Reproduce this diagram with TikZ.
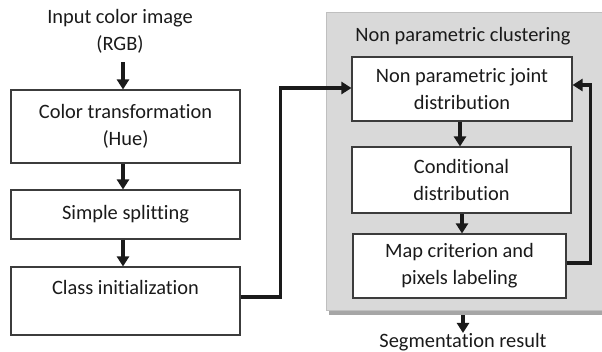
\documentclass[tikz,border=0pt]{standalone}
\usepackage{fontspec}
\setmainfont{Carlito}[Ligatures={NoCommon,NoRare,NoContextual}]
\usetikzlibrary{arrows.meta}
\definecolor{panelfill}{HTML}{D9D9D9}
\definecolor{panelline}{HTML}{BFBFBF}
\definecolor{panelshade}{HTML}{A6A6A6}
\definecolor{ink}{HTML}{1A1A1A}
\tikzset{
  stepbox/.style={draw=ink!85, line width=1.1pt, fill=white, align=center,
    inner sep=0pt, text=ink},
  plain/.style={align=center, inner sep=0pt, text=ink},
  arr/.style={draw=ink, line width=3.6pt,
    -{Triangle[width=12pt,length=10pt]}},
  link/.style={draw=ink, line width=3.6pt, line join=miter,
    -{Triangle[width=12pt,length=10pt]}},
}
\begin{document}
\begin{tikzpicture}[x=1pt, y=-1pt, font=\fontsize{20.4}{27}\selectfont]
\useasboundingbox (0,0) rectangle (602,352);

% clustering panel with its shadow
\fill[panelshade] (329,311) rectangle (620,315);
\node[draw=panelline, fill=panelfill, line width=1pt, minimum width=290pt,
  minimum height=298pt, inner sep=0pt] (panel) at (471,162) {};
\node[plain] (ptitle) at (463,36) {Non parametric clustering};

% left column
\node[plain] (in) at (120,31) {Input color image\\(RGB)};
\node[stepbox, minimum width=229pt, minimum height=73pt] (b1) at (125.5,126.5)
  {Color transformation\\(Hue)};
\node[stepbox, minimum width=229pt, minimum height=49pt] (b2) at (125.5,214.5)
  {Simple splitting};
\node[stepbox, minimum width=229pt, minimum height=68pt] (b3) at (125.5,301)
  {Class initialization\\\mbox{}};

% right column
\node[stepbox, minimum width=220pt, minimum height=64pt] (b4) at (462,89)
  {Non parametric joint\\distribution};
\node[stepbox, minimum width=219pt, minimum height=66pt] (b5) at (461.5,180)
  {Conditional\\distribution};
\node[stepbox, minimum width=213pt, minimum height=64pt] (b6) at (459.5,266)
  {Map criterion and\\pixels labeling};
\node[plain] (res) at (463,342) {Segmentation result};

% flow
\draw[arr] (b1.north -| 123,0) ++(0,-27) -- (b1.north -| 123,0);
\draw[arr] (b1.south -| 123,0) -- (b2.north -| 123,0);
\draw[arr] (b2.south -| 123,0) -- (b3.north -| 123,0);
\draw[link] ([yshift=4pt]b3.east) -- ++(40,0) |- ([yshift=1pt]b4.west);
\draw[arr] (b4.south -| 460,0) -- (b5.north -| 460,0);
\draw[arr] (b5.south -| 462,0) -- (b6.north -| 462,0);
\draw[link] ([yshift=3pt]b6.east) -- ++(24,0) |- ([yshift=4pt]b4.east);
\draw[arr] (panel.south -| res) ++(0,4) -- (res.north);
\end{tikzpicture}
\end{document}
